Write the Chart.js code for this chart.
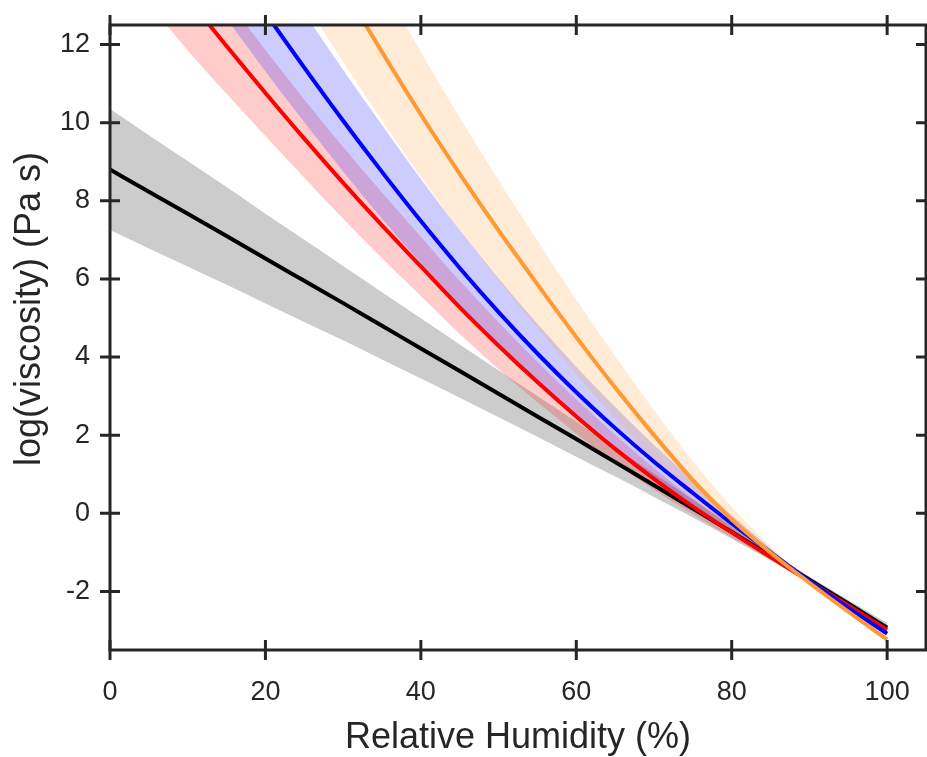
<!DOCTYPE html>
<html>
<head>
<meta charset="utf-8">
<script src="https://cdn.jsdelivr.net/npm/chart.js@4.4.1/dist/chart.umd.min.js"></script>
<style>
    html, body { margin: 0; padding: 0; background: #ffffff; }
    #wrap { width: 927px; height: 757px; }
</style>
</head>
<body>
<div id="wrap"><canvas id="ViscosityChart"></canvas></div>
<script>
// relative humidity grid (%)
const rh = [0, 5, 10, 15, 20, 25, 30, 35, 40, 45, 50, 55, 60, 65, 70, 75, 80, 85, 90, 95, 100];

const blackLine = [8.8, 8.23, 7.67, 7.1, 6.52, 5.95, 5.38, 4.8, 4.22, 3.64, 3.06, 2.48, 1.9, 1.31, 0.72, 0.12, -0.48, -1.09, -1.7, -2.31, -2.93];
const blackUpper = [10.35, 9.68, 9.02, 8.35, 7.67, 7.0, 6.33, 5.66, 4.99, 4.32, 3.66, 3.0, 2.35, 1.68, 1.02, 0.35, -0.31, -0.98, -1.62, -2.22, -2.81];
const blackLower = [7.25, 6.78, 6.32, 5.85, 5.37, 4.9, 4.43, 3.94, 3.45, 2.96, 2.46, 1.96, 1.45, 0.94, 0.42, -0.11, -0.65, -1.2, -1.78, -2.4, -3.05];

const redLine = [null, 14.5, 13.2, 11.96, 10.76, 9.59, 8.46, 7.37, 6.32, 5.27, 4.29, 3.36, 2.48, 1.65, 0.88, 0.17, -0.49, -1.12, -1.74, -2.36, -2.98];
const redUpper = [null, 15.95, 14.55, 13.18, 11.86, 10.59, 9.38, 8.21, 7.08, 5.95, 4.89, 3.88, 2.92, 2.01, 1.16, 0.37, -0.36, -1.06, -1.74, null, null];
const redLower = [null, 13.05, 11.85, 10.74, 9.66, 8.59, 7.54, 6.53, 5.56, 4.59, 3.69, 2.84, 2.04, 1.29, 0.6, -0.03, -0.62, -1.18, -1.74, null, null];

const blueLine = [null, null, 15.71, 14.26, 12.81, 11.41, 10.05, 8.74, 7.48, 6.28, 5.15, 4.09, 3.1, 2.18, 1.32, 0.52, -0.26, -1.0, -1.73, -2.42, -3.08];
const blueUpper = [null, null, 17.41, 15.86, 14.31, 12.81, 11.35, 9.94, 8.56, 7.25, 6.01, 4.85, 3.75, 2.72, 1.75, 0.84, -0.05, -0.9, -1.73, null, null];
const blueLower = [null, null, 14.01, 12.66, 11.31, 10.01, 8.75, 7.54, 6.4, 5.31, 4.29, 3.33, 2.45, 1.64, 0.89, 0.2, -0.47, -1.1, -1.73, null, null];

const orangeLine = [null, null, null, null, 16.91, 15.16, 13.46, 11.81, 10.21, 8.69, 7.24, 5.86, 4.51, 3.22, 2.0, 0.85, -0.16, -1.01, -1.78, -2.52, -3.23];
const orangeUpper = [null, null, null, null, 19.11, 17.21, 15.36, 13.56, 11.81, 10.13, 8.52, 6.98, 5.47, 4.02, 2.64, 1.33, 0.16, -0.85, -1.78, null, null];
const orangeLower = [null, null, null, null, 14.71, 13.11, 11.56, 10.06, 8.61, 7.25, 5.96, 4.74, 3.55, 2.42, 1.36, 0.37, -0.48, -1.17, -1.78, null, null];

const xTicks = [0, 20, 40, 60, 80, 100];
const yTicks = [-2, 0, 2, 4, 6, 8, 10, 12];

const axisColor = '#262626';
const fontFamily = 'Liberation Sans';

function band(data, color, fill, order) {
    return {
        data: data,
        borderWidth: 0,
        pointRadius: 0,
        backgroundColor: color,
        fill: fill,
        cubicInterpolationMode: 'monotone',
        order: order
    };
}

function curve(data, color, order) {
    return {
        data: data,
        borderColor: color,
        borderWidth: 4,
        pointRadius: 0,
        fill: false,
        cubicInterpolationMode: 'monotone',
        order: order
    };
}

// MATLAB style box, ticks crossing the axis lines, rotated y label
const boxPlugin = {
    id: 'box',
    afterDatasetsDraw(chart) {
        const { ctx, chartArea: a, scales } = chart;
        ctx.save();
        ctx.strokeStyle = axisColor;
        ctx.lineWidth = 3;
        ctx.strokeRect(a.left, a.top, a.right - a.left, a.bottom - a.top);
        ctx.beginPath();
        xTicks.forEach(v => {
            const px = scales.x.getPixelForValue(v);
            ctx.moveTo(px, a.bottom - 10); ctx.lineTo(px, a.bottom + 10);
            ctx.moveTo(px, a.top - 10); ctx.lineTo(px, a.top + 10);
        });
        yTicks.forEach(v => {
            const py = scales.y.getPixelForValue(v);
            ctx.moveTo(a.left - 10, py); ctx.lineTo(a.left + 10, py);
            ctx.moveTo(a.right - 10, py); ctx.lineTo(a.right + 10, py);
        });
        ctx.stroke();

        ctx.translate(30, 309);
        ctx.rotate(-Math.PI / 2);
        ctx.fillStyle = axisColor;
        ctx.font = '36px "' + fontFamily + '"';
        ctx.textAlign = 'center';
        ctx.textBaseline = 'middle';
        ctx.fillText('log(viscosity) (Pa s)', 0, 0);
        ctx.restore();
    }
};

const ctx = document.getElementById('ViscosityChart');
const ViscosityChart = new Chart(ctx, {
    type: 'line',
    data: {
        labels: rh,
        datasets: [
            band(blackUpper, 'rgba(0, 0, 0, 0.2)', '+1', 13),
            band(blackLower, 'rgba(0, 0, 0, 0)', false, 13),
            band(redUpper, 'rgba(255, 0, 0, 0.2)', '+1', 12),
            band(redLower, 'rgba(0, 0, 0, 0)', false, 12),
            band(blueUpper, 'rgba(0, 0, 255, 0.2)', '+1', 11),
            band(blueLower, 'rgba(0, 0, 0, 0)', false, 11),
            band(orangeUpper, 'rgba(255, 153, 51, 0.2)', '+1', 10),
            band(orangeLower, 'rgba(0, 0, 0, 0)', false, 10),
            curve(blackLine, '#000000', 3),
            curve(redLine, '#ff0000', 2),
            curve(blueLine, '#0000ff', 1),
            curve(orangeLine, '#ff9933', 0)
        ]
    },
    options: {
        responsive: true,
        maintainAspectRatio: false,
        animation: false,
        layout: {
            padding: { top: 25, right: 1, left: 0, bottom: 0 }
        },
        plugins: {
            legend: { display: false },
            tooltip: { enabled: false }
        },
        scales: {
            x: {
                type: 'linear',
                min: 0,
                max: 105,
                afterBuildTicks: function (scale) {
                    scale.ticks = xTicks.map(v => ({ value: v }));
                },
                afterFit: function (scale) {
                    scale.height = 107;
                    scale.paddingLeft = 0;
                    scale.paddingRight = 0;
                },
                grid: { display: false, drawTicks: false },
                border: { display: false },
                ticks: {
                    color: axisColor,
                    padding: 26,
                    maxRotation: 0,
                    font: { family: fontFamily, size: 27 }
                },
                title: {
                    display: true,
                    text: 'Relative Humidity (%)',
                    color: axisColor,
                    padding: { top: 0, bottom: -3 },
                    font: { family: fontFamily, size: 36 }
                }
            },
            y: {
                min: -3.5,
                max: 12.5,
                afterBuildTicks: function (scale) {
                    scale.ticks = yTicks.map(v => ({ value: v }));
                },
                afterFit: function (scale) {
                    scale.width = 110;
                    scale.paddingTop = 0;
                    scale.paddingBottom = 0;
                },
                grid: { display: false, drawTicks: false },
                border: { display: false },
                ticks: {
                    color: axisColor,
                    padding: 20,
                    font: { family: fontFamily, size: 27 }
                }
            }
        }
    },
    plugins: [boxPlugin]
});
</script>
</body>
</html>
